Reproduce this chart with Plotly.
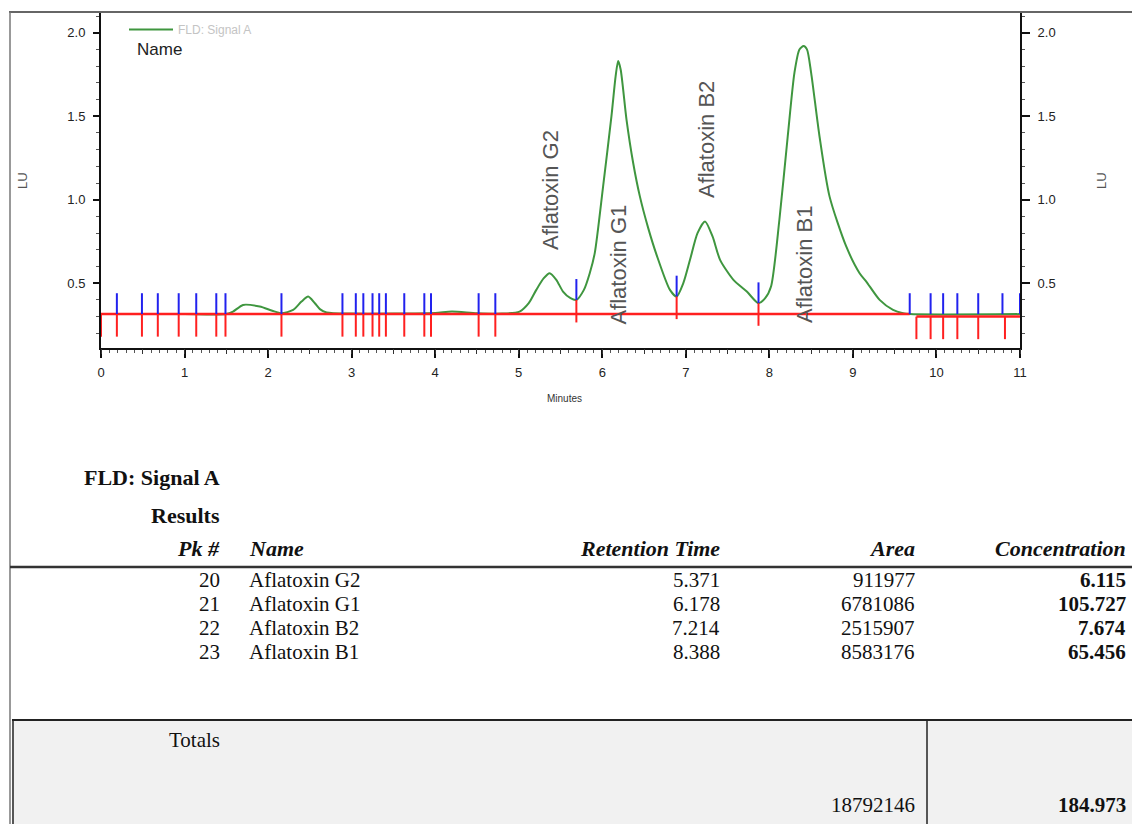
import plotly.graph_objects as go

W, H = 1132, 824

# ---------------- chromatogram data ----------------
time_min = [0.0, 0.5, 1.0, 1.5, 1.58, 1.70, 1.90, 2.05, 2.16, 2.30, 2.40, 2.48, 2.56, 2.62, 2.70,
            3.0, 3.5, 4.0, 4.2, 4.5, 4.8, 5.01, 5.12, 5.21, 5.30, 5.37, 5.45, 5.53, 5.62, 5.69,
            5.78, 5.85, 5.91, 6.01, 6.11, 6.16, 6.19, 6.22, 6.29, 6.37, 6.45, 6.55, 6.65, 6.81,
            6.89, 6.97, 7.05, 7.14, 7.23, 7.32, 7.41, 7.57, 7.73, 7.87, 7.95, 8.02, 8.12, 8.22,
            8.30, 8.36, 8.41, 8.45, 8.50, 8.60, 8.72, 8.92, 9.08, 9.16, 9.32, 9.48, 9.60, 9.68, 11.0]
signal_lu = [0.315, 0.315, 0.315, 0.315, 0.33, 0.37, 0.36, 0.335, 0.32, 0.34, 0.39, 0.42, 0.38, 0.345, 0.325,
             0.318, 0.318, 0.322, 0.33, 0.32, 0.318, 0.33, 0.38, 0.46, 0.53, 0.56, 0.52, 0.45, 0.41, 0.40,
             0.46, 0.56, 0.68, 1.08, 1.50, 1.74, 1.83, 1.78, 1.48, 1.22, 1.02, 0.83, 0.67, 0.46,
             0.42, 0.50, 0.64, 0.80, 0.87, 0.78, 0.64, 0.52, 0.45, 0.38, 0.41, 0.48, 0.88, 1.38,
             1.76, 1.90, 1.92, 1.90, 1.76, 1.38, 1.02, 0.72, 0.56, 0.51, 0.40, 0.34, 0.32, 0.315, 0.315]

baseline_x = [0.0, 9.68, None, 9.76, 11.0]
baseline_y = [0.315, 0.315, None, 0.30, 0.30]

blue_times = [0.19, 0.49, 0.68, 0.93, 1.14, 1.38, 1.49, 2.16, 2.89, 3.05, 3.14, 3.25, 3.33, 3.41,
              3.63, 3.87, 3.95, 4.52, 4.72, 5.69, 6.89, 7.87, 9.68, 9.93, 10.08, 10.25, 10.50, 10.79, 11.0]
blue_base = [0.315] * 19 + [0.40, 0.42, 0.38] + [0.315] * 7

red_times = [0.0, 0.19, 0.49, 0.68, 0.93, 1.14, 1.38, 1.49, 2.16, 2.89, 3.05, 3.14, 3.25, 3.33, 3.41,
             3.63, 3.87, 3.95, 4.52, 4.72, 5.69, 6.89, 7.87, 9.76, 9.93, 10.08, 10.25, 10.50, 10.82]
red_base = [0.315] * 20 + [0.40, 0.42, 0.38] + [0.30] * 6

peak_names = ["Aflatoxin G2", "Aflatoxin G1", "Aflatoxin B2", "Aflatoxin B1"]
label_x = [5.38, 6.20, 7.24, 8.42]
label_y = [0.69, 0.24, 1.00, 0.25]

y_ticks = [0.5, 1.0, 1.5, 2.0]
y_tick_text = ["0.5", "1.0", "1.5", "2.0"]

# ---------------- results table data ----------------
pk_num = [20, 21, 22, 23]
cmp_names = ["Aflatoxin G2", "Aflatoxin G1", "Aflatoxin B2", "Aflatoxin B1"]
ret_time = ["5.371", "6.178", "7.214", "8.388"]
area = ["911977", "6781086", "2515907", "8583176"]
conc = ["6.115", "105.727", "7.674", "65.456"]
total_area = "18792146"
total_conc = "184.973"

BLUE_LEN = 0.125
RED_LEN = 0.135


def px(x):
    return x / W


def py(y):
    return 1 - y / H


fig = go.Figure()

fig.add_trace(go.Scatter(x=time_min, y=signal_lu, mode="lines", name="FLD: Signal A",
                         line=dict(color="#3f963f", width=2, shape="spline", smoothing=0.7),
                         showlegend=True, hoverinfo="skip"))

fig.add_trace(go.Scatter(x=baseline_x, y=baseline_y, mode="lines", showlegend=False,
                         line=dict(color="#ff2020", width=2.5), hoverinfo="skip"))

bx, by = [], []
for t, b in zip(blue_times, blue_base):
    bx += [t, t, None]
    by += [b, b + BLUE_LEN, None]
fig.add_trace(go.Scatter(x=bx, y=by, mode="lines", showlegend=False,
                         line=dict(color="#2222ee", width=2), hoverinfo="skip"))

rx, ry = [], []
for t, b in zip(red_times, red_base):
    rx += [t, t, None]
    ry += [b, b - RED_LEN, None]
fig.add_trace(go.Scatter(x=rx, y=ry, mode="lines", showlegend=False,
                         line=dict(color="#ff2020", width=2), hoverinfo="skip"))

# dummy trace for secondary axes
fig.add_trace(go.Scatter(x=[0], y=[0.5], xaxis="x2", yaxis="y2", mode="markers",
                         marker=dict(opacity=0), showlegend=False, hoverinfo="skip"))

sans = "Liberation Sans, Arial, sans-serif"
serif = "Liberation Serif, Times New Roman, serif"

xdom = [px(101), px(1020)]
ydom = [py(348), py(12)]
yrange = [0.112, 2.124]

common_y = dict(domain=ydom, range=yrange, tickvals=y_ticks, ticktext=y_tick_text,
                ticks="outside", tickwidth=1.5, tickcolor="#111", showgrid=False, zeroline=False,
                showline=True, linecolor="#111", linewidth=2, ticklabelstandoff=5, automargin=False,
                tickfont=dict(family=sans, size=13, color="#222"),
                minor=dict(dtick=0.1, tick0=0, ticks="outside", ticklen=3, tickcolor="#555", tickwidth=1))

fig.update_layout(
    width=W, height=H, margin=dict(l=0, r=0, t=0, b=0, pad=0), autosize=False,
    paper_bgcolor="white", plot_bgcolor="white",
    xaxis=dict(domain=xdom, range=[0, 11], anchor="y", tick0=0, dtick=1, automargin=False,
               ticks="outside", ticklen=8, tickwidth=1.5, tickcolor="#111", ticklabelstandoff=3,
               showline=True, linecolor="#111", linewidth=2, showgrid=False, zeroline=False,
               tickfont=dict(family=sans, size=13, color="#222"),
               minor=dict(dtick=0.1, tick0=0, ticks="outside", ticklen=3, tickcolor="#555", tickwidth=1)),
    xaxis2=dict(domain=xdom, range=[0, 11], overlaying="x", anchor="y", side="bottom", automargin=False,
                tick0=0, dtick=0.5, ticks="outside", ticklen=5, tickwidth=1, tickcolor="#333",
                showticklabels=False, showline=False, showgrid=False, zeroline=False),
    yaxis=dict(anchor="x", side="left", ticklen=6, **common_y),
    yaxis2=dict(anchor="x", side="right", overlaying="y", ticklen=8, **common_y),
    legend=dict(x=px(124), y=py(15), xanchor="left", yanchor="top",
                font=dict(family=sans, size=12, color="#c4c4c4"),
                bgcolor="rgba(0,0,0,0)", borderwidth=0, itemwidth=44),
    showlegend=True,
)

ann = []


def a(x, y, text, size, color, family=sans, xanchor="center", angle=0, xref="paper", yref="paper",
      yanchor="middle"):
    ann.append(dict(x=x, y=y, xref=xref, yref=yref, text=text, showarrow=False, textangle=angle,
                    xanchor=xanchor, yanchor=yanchor, font=dict(family=family, size=size, color=color)))


# axis titles
a(px(22), py(181), "LU", 13, "#555", angle=-90)
a(px(1101), py(181), "LU", 13, "#555", angle=-90)
a(px(564), py(398), "Minutes", 10, "#333")
a(px(135), py(50), "Name", 17, "#222", family="Liberation Sans Narrow, Liberation Sans, Arial",
  xanchor="left")

# peak labels
for nm, lx, ly in zip(peak_names, label_x, label_y):
    a(lx, ly, nm, 22, "#555", angle=-90, xref="x", yref="y", yanchor="bottom")


# table
def t(x, y, text, anchor="right", size=21, color="#111"):
    a(px(x), py(y), text, size, color, family=serif, xanchor=anchor)


t(222, 478, "<b>FLD: Signal A</b>", size=22)
t(222, 515, "<b>Results</b>", size=22)
t(222, 548, "<b><i>Pk #</i></b>", size=22)
t(247, 548, "<b><i>Name</i></b>", anchor="left", size=22)
t(722, 548, "<b><i>Retention Time</i></b>", size=22)
t(917, 548, "<b><i>Area</i></b>", size=22)
t(1128, 548, "<b><i>Concentration</i></b>", size=22)

row_y = [580, 604, 628, 652]
for i, ry_ in enumerate(row_y):
    t(222, ry_, str(pk_num[i]))
    t(247, ry_, cmp_names[i], anchor="left")
    t(722, ry_, ret_time[i])
    t(917, ry_, area[i])
    t(1128, ry_, "<b>" + conc[i] + "</b>")

t(222, 740, "Totals")
t(917, 805, total_area)
t(1128, 805, "<b>" + total_conc + "</b>")

fig.update_layout(annotations=ann)

shapes = [
    # gray totals box
    dict(type="rect", xref="paper", yref="paper", x0=px(12), x1=1, y0=0, y1=py(720),
         fillcolor="#f1f1f1", line=dict(width=0), layer="below"),
    # page border top and left
    dict(type="line", xref="paper", yref="paper", x0=px(9), x1=1, y0=py(12), y1=py(12),
         line=dict(color="#666", width=2)),
    dict(type="line", xref="paper", yref="paper", x0=px(10), x1=px(10), y0=0, y1=py(12),
         line=dict(color="#777", width=1.5)),
    # table header rule
    dict(type="line", xref="paper", yref="paper", x0=px(10), x1=1, y0=py(567), y1=py(567),
         line=dict(color="#333", width=2.5)),
    # totals top line
    dict(type="line", xref="paper", yref="paper", x0=px(12), x1=1, y0=py(720), y1=py(720),
         line=dict(color="#222", width=2)),
    dict(type="line", xref="paper", yref="paper", x0=px(13), x1=px(13), y0=0, y1=py(720),
         line=dict(color="#222", width=1.5)),
    dict(type="line", xref="paper", yref="paper", x0=px(927), x1=px(927), y0=0, y1=py(720),
         line=dict(color="#222", width=1.5)),
]
fig.update_layout(shapes=shapes)

fig.write_html("out.html", config={"displayModeBar": False},
               post_script="document.body.style.margin='0';document.body.style.overflow='hidden';")
